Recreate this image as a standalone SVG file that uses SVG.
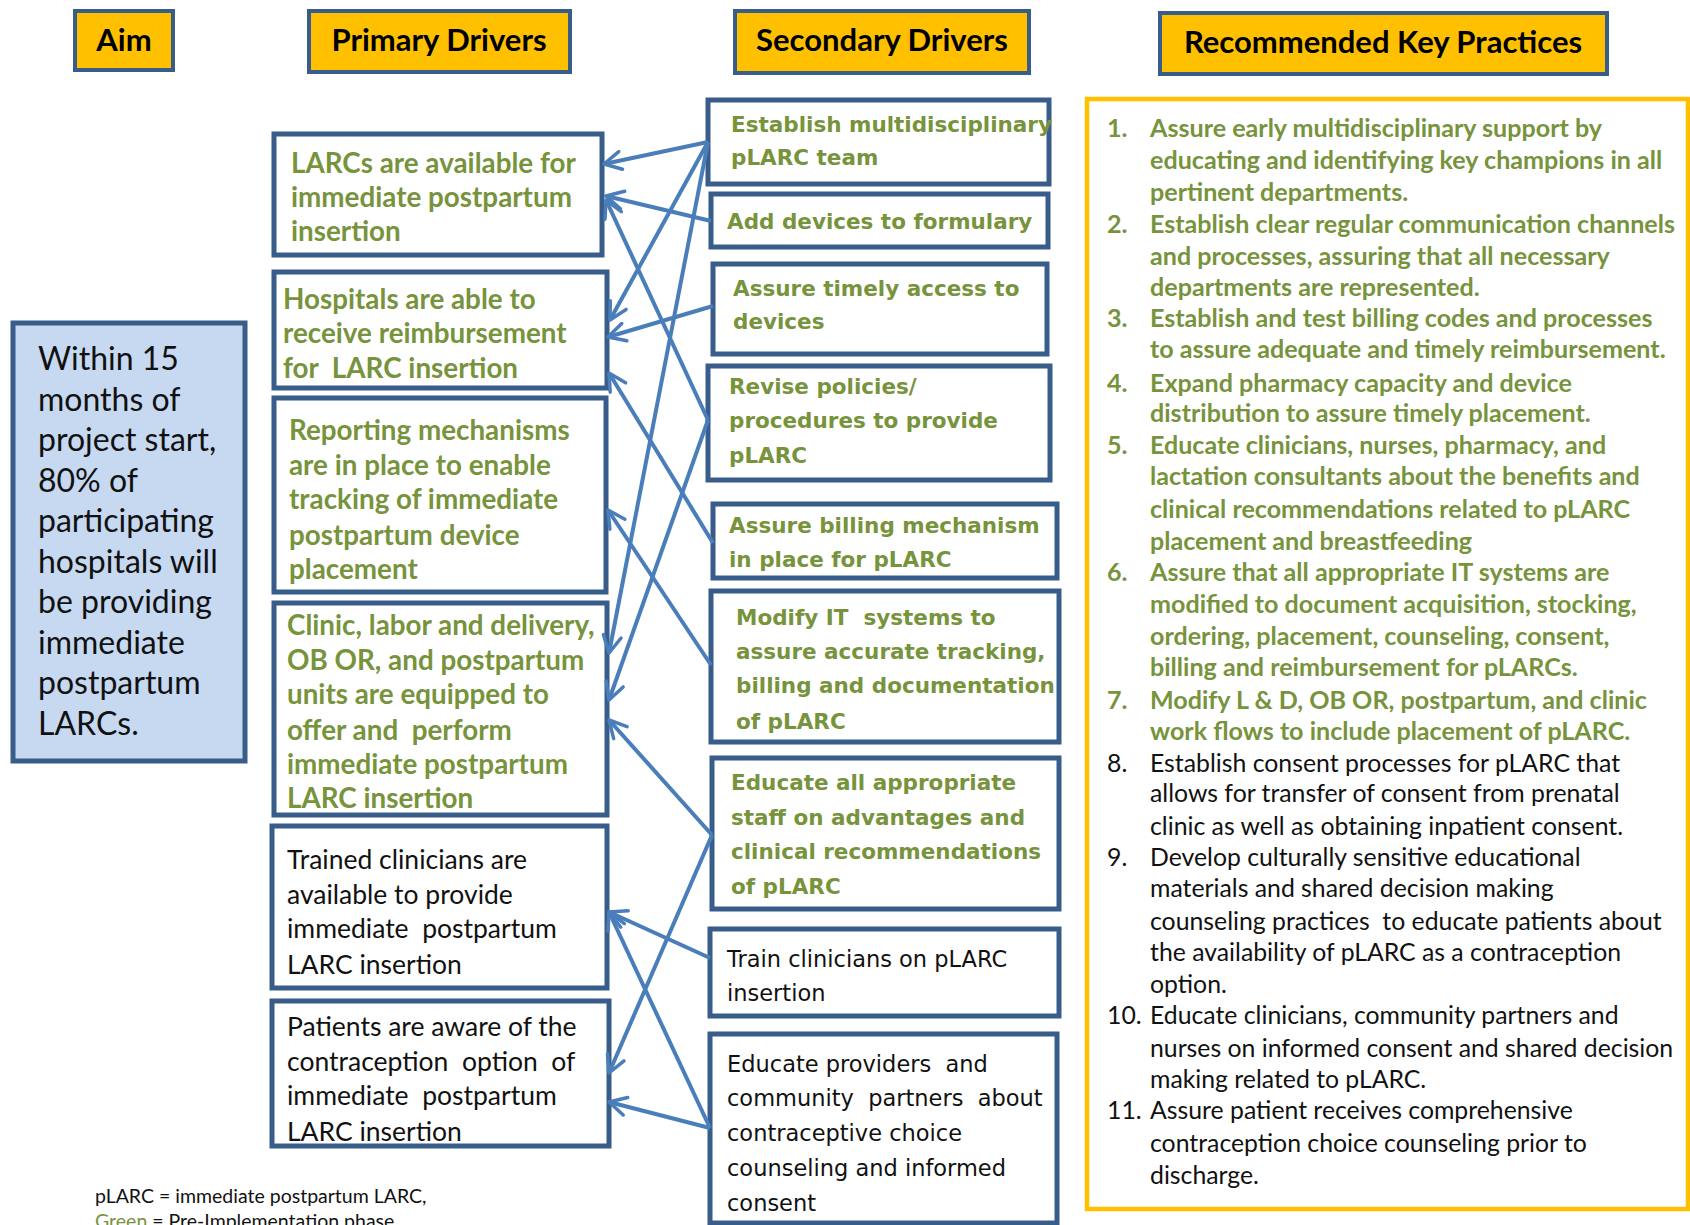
<svg xmlns="http://www.w3.org/2000/svg" width="1690" height="1225" viewBox="0 0 1690 1225">
<defs>
<style>
.hdr{fill:#FFC000;stroke:#385D8A;stroke-width:4}
.hdrt{font-family:Lato,"Liberation Sans",sans-serif;font-weight:bold;font-size:31px;fill:#000;text-anchor:middle}
.box{fill:#fff;stroke:#385D8A;stroke-width:5}
.aim{fill:#C6D9F1;stroke:#385D8A;stroke-width:5}
.aimt{font-family:Lato,"Liberation Sans",sans-serif;font-size:32px;fill:#111}
.pg{font-family:Lato,"Liberation Sans",sans-serif;font-weight:bold;font-size:27.8px;fill:#77933C}
.pk{font-family:Lato,"Liberation Sans",sans-serif;font-size:26.5px;fill:#111}
.sg{font-family:"DejaVu Sans",Verdana,sans-serif;font-weight:bold;font-size:21.5px;fill:#77933C}
.sk{font-family:"DejaVu Sans",Verdana,sans-serif;font-size:22.5px;fill:#111}
.rg{font-family:Lato,"Liberation Sans",sans-serif;font-weight:bold;font-size:25.1px;fill:#77933C}
.rk{font-family:Lato,"Liberation Sans",sans-serif;font-size:24.8px;fill:#111}
.ft{font-family:Lato,"Liberation Sans",sans-serif;font-size:19.5px;fill:#111}
.conn line{stroke:#4A7EBB;stroke-width:4;marker-end:url(#ah)}
</style>
<marker id="ah" viewBox="0 0 22 22" markerUnits="userSpaceOnUse" markerWidth="22" markerHeight="22" refX="20" refY="11" orient="auto">
<path d="M3,2 L20,11 L3,20" fill="none" stroke="#4A7EBB" stroke-width="3.5" stroke-linecap="round" stroke-linejoin="round"/>
</marker>
</defs>
<rect width="1690" height="1225" fill="#fff"/>

<g id="hdr-aim"><rect class="hdr" x="75" y="11" width="98" height="59"/><text class="hdrt" x="124" y="51">Aim</text></g>
<g id="hdr-primary"><rect class="hdr" x="309" y="11" width="261" height="61"/><text class="hdrt" x="439" y="51">Primary Drivers</text></g>
<g id="hdr-secondary"><rect class="hdr" x="735" y="11" width="294" height="62"/><text class="hdrt" x="882" y="51">Secondary Drivers</text></g>
<g id="hdr-practices"><rect class="hdr" x="1160" y="13" width="447" height="61"/><text class="hdrt" x="1383" y="53">Recommended Key Practices</text></g>

<g id="aim">
<rect class="aim" x="13" y="323" width="232" height="438"/>
<text class="aimt" x="38" y="370">Within 15</text>
<text class="aimt" x="38" y="410.5">months of</text>
<text class="aimt" x="38" y="451">project start,</text>
<text class="aimt" x="38" y="491.5">80% of</text>
<text class="aimt" x="38" y="532">participating</text>
<text class="aimt" x="38" y="572.5">hospitals will</text>
<text class="aimt" x="38" y="613">be providing</text>
<text class="aimt" x="38" y="653.5">immediate</text>
<text class="aimt" x="38" y="694">postpartum</text>
<text class="aimt" x="38" y="734.5">LARCs.</text>
</g>

<g id="p1"><rect class="box" x="274" y="134" width="328" height="121"/>
<text class="pg" x="291" y="173">LARCs are available for</text>
<text class="pg" x="291" y="207">immediate postpartum</text>
<text class="pg" x="291" y="241">insertion</text></g>
<g id="p2"><rect class="box" x="274" y="272" width="333" height="116"/>
<text class="pg" x="283" y="309">Hospitals are able to</text>
<text class="pg" x="283" y="343">receive reimbursement</text>
<text class="pg" x="283" y="378" xml:space="preserve">for  LARC insertion</text></g>
<g id="p3"><rect class="box" x="274" y="398" width="332" height="194"/>
<text class="pg" x="289" y="440">Reporting mechanisms</text>
<text class="pg" x="289" y="475">are in place to enable</text>
<text class="pg" x="289" y="509">tracking of immediate</text>
<text class="pg" x="289" y="545">postpartum device</text>
<text class="pg" x="289" y="579">placement</text></g>
<g id="p4"><rect class="box" x="274" y="603" width="333" height="212"/>
<text class="pg" x="287" y="635">Clinic, labor and delivery,</text>
<text class="pg" x="287" y="670">OB OR, and postpartum</text>
<text class="pg" x="287" y="704">units are equipped to</text>
<text class="pg" x="287" y="740" xml:space="preserve">offer and  perform</text>
<text class="pg" x="287" y="774">immediate postpartum</text>
<text class="pg" x="287" y="808">LARC insertion</text></g>
<g id="p5"><rect class="box" x="272" y="826" width="335" height="162"/>
<text class="pk" x="287" y="869">Trained clinicians are</text>
<text class="pk" x="287" y="904">available to provide</text>
<text class="pk" x="287" y="938" xml:space="preserve">immediate  postpartum</text>
<text class="pk" x="287" y="974">LARC insertion</text></g>
<g id="p6"><rect class="box" x="272" y="1001" width="337" height="145"/>
<text class="pk" x="287" y="1036">Patients are aware of the</text>
<text class="pk" x="287" y="1071" xml:space="preserve">contraception  option  of</text>
<text class="pk" x="287" y="1105" xml:space="preserve">immediate  postpartum</text>
<text class="pk" x="287" y="1141">LARC insertion</text></g>

<g id="s1"><rect class="box" x="708" y="100" width="341" height="84"/>
<text class="sg" x="731" y="132">Establish multidisciplinary</text>
<text class="sg" x="731" y="165">pLARC team</text></g>
<g id="s2"><rect class="box" x="711" y="194" width="337" height="53"/>
<text class="sg" x="727" y="229">Add devices to formulary</text></g>
<g id="s3"><rect class="box" x="713" y="264" width="334" height="90"/>
<text class="sg" x="733" y="296">Assure timely access to</text>
<text class="sg" x="733" y="329">devices</text></g>
<g id="s4"><rect class="box" x="708" y="366" width="342" height="114"/>
<text class="sg" x="729" y="394">Revise policies/</text>
<text class="sg" x="729" y="428">procedures to provide</text>
<text class="sg" x="729" y="463">pLARC</text></g>
<g id="s5"><rect class="box" x="713" y="504" width="344" height="74"/>
<text class="sg" x="729" y="533">Assure billing mechanism</text>
<text class="sg" x="729" y="567">in place for pLARC</text></g>
<g id="s6"><rect class="box" x="711" y="591" width="348" height="151"/>
<text class="sg" x="736" y="625" xml:space="preserve">Modify IT  systems to</text>
<text class="sg" x="736" y="659">assure accurate tracking,</text>
<text class="sg" x="736" y="693">billing and documentation</text>
<text class="sg" x="736" y="729">of pLARC</text></g>
<g id="s7"><rect class="box" x="712" y="758" width="347" height="151"/>
<text class="sg" x="731" y="790">Educate all appropriate</text>
<text class="sg" x="731" y="825">staff on advantages and</text>
<text class="sg" x="731" y="859">clinical recommendations</text>
<text class="sg" x="731" y="894">of pLARC</text></g>
<g id="s8"><rect class="box" x="710" y="929" width="349" height="87"/>
<text class="sk" x="727" y="967">Train clinicians on pLARC</text>
<text class="sk" x="727" y="1001">insertion</text></g>
<g id="s9"><rect class="box" x="710" y="1034" width="347" height="189"/>
<text class="sk" x="727" y="1072" xml:space="preserve">Educate providers  and</text>
<text class="sk" x="727" y="1106" xml:space="preserve">community  partners  about</text>
<text class="sk" x="727" y="1141">contraceptive choice</text>
<text class="sk" x="727" y="1176">counseling and informed</text>
<text class="sk" x="727" y="1211">consent</text></g>

<g id="practices">
<rect x="1087" y="99" width="601" height="1110" fill="#fff" stroke="#FFC000" stroke-width="4.5"/>
<text class="rg" x="1107" y="137">1.</text><text class="rg" x="1150" y="137">Assure early multidisciplinary support by</text>
<text class="rg" x="1150" y="169">educating and identifying key champions in all</text>
<text class="rg" x="1150" y="201">pertinent departments.</text>
<text class="rg" x="1107" y="233">2.</text><text class="rg" x="1150" y="233">Establish clear regular communication channels</text>
<text class="rg" x="1150" y="265">and processes, assuring that all necessary</text>
<text class="rg" x="1150" y="296">departments are represented.</text>
<text class="rg" x="1107" y="327">3.</text><text class="rg" x="1150" y="327">Establish and test billing codes and processes</text>
<text class="rg" x="1150" y="358">to assure adequate and timely reimbursement.</text>
<text class="rg" x="1107" y="392">4.</text><text class="rg" x="1150" y="392">Expand pharmacy capacity and device</text>
<text class="rg" x="1150" y="422">distribution to assure timely placement.</text>
<text class="rg" x="1107" y="454">5.</text><text class="rg" x="1150" y="454">Educate clinicians, nurses, pharmacy, and</text>
<text class="rg" x="1150" y="485">lactation consultants about the benefits and</text>
<text class="rg" x="1150" y="518">clinical recommendations related to pLARC</text>
<text class="rg" x="1150" y="550">placement and breastfeeding</text>
<text class="rg" x="1107" y="581">6.</text><text class="rg" x="1150" y="581">Assure that all appropriate IT systems are</text>
<text class="rg" x="1150" y="613">modified to document acquisition, stocking,</text>
<text class="rg" x="1150" y="645">ordering, placement, counseling, consent,</text>
<text class="rg" x="1150" y="676">billing and reimbursement for pLARCs.</text>
<text class="rg" x="1107" y="709">7.</text><text class="rg" x="1150" y="709">Modify L &amp; D, OB OR, postpartum, and clinic</text>
<text class="rg" x="1150" y="740">work flows to include placement of pLARC.</text>
<text class="rk" x="1107" y="772">8.</text><text class="rk" x="1150" y="772">Establish consent processes for pLARC that</text>
<text class="rk" x="1150" y="802">allows for transfer of consent from prenatal</text>
<text class="rk" x="1150" y="835">clinic as well as obtaining inpatient consent.</text>
<text class="rk" x="1107" y="866">9.</text><text class="rk" x="1150" y="866">Develop culturally sensitive educational</text>
<text class="rk" x="1150" y="897">materials and shared decision making</text>
<text class="rk" x="1150" y="930" xml:space="preserve">counseling practices  to educate patients about</text>
<text class="rk" x="1150" y="961">the availability of pLARC as a contraception</text>
<text class="rk" x="1150" y="993">option.</text>
<text class="rk" x="1107" y="1024">10.</text><text class="rk" x="1150" y="1024">Educate clinicians, community partners and</text>
<text class="rk" x="1150" y="1057">nurses on informed consent and shared decision</text>
<text class="rk" x="1150" y="1088">making related to pLARC.</text>
<text class="rk" x="1107" y="1119">11.</text><text class="rk" x="1150" y="1119">Assure patient receives comprehensive</text>
<text class="rk" x="1150" y="1152">contraception choice counseling prior to</text>
<text class="rk" x="1150" y="1184">discharge.</text>
</g>

<g id="legend">
<text class="ft" x="95" y="1203">pLARC = immediate postpartum LARC,</text>
<text class="ft" x="95" y="1228"><tspan fill="#77933C">Green</tspan> = Pre-Implementation phase</text>
</g>

<g id="connectors" class="conn">
<line x1="708" y1="142" x2="604" y2="164"/>
<line x1="711" y1="221" x2="606" y2="196"/>
<line x1="708" y1="420" x2="606" y2="200"/>
<line x1="708" y1="142" x2="610" y2="320"/>
<line x1="713" y1="306" x2="608" y2="337"/>
<line x1="713" y1="543" x2="609" y2="373"/>
<line x1="711" y1="665" x2="608" y2="510"/>
<line x1="708" y1="142" x2="609" y2="653"/>
<line x1="708" y1="420" x2="609" y2="700"/>
<line x1="712" y1="835" x2="609" y2="720"/>
<line x1="712" y1="835" x2="609" y2="1073"/>
<line x1="710" y1="958" x2="609" y2="912"/>
<line x1="710" y1="1128" x2="609" y2="912"/>
<line x1="710" y1="1128" x2="609" y2="1102"/>
</g>
</svg>
